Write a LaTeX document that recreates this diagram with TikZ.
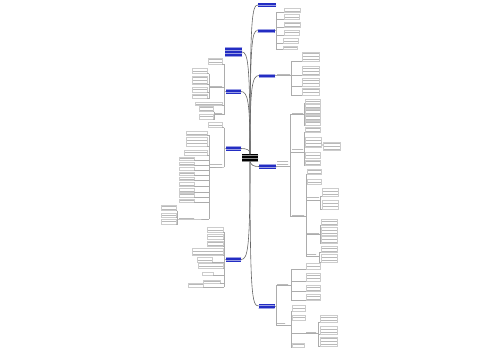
\documentclass[tikz,border=0pt]{standalone}
\usetikzlibrary{patterns}
\definecolor{mblue}{RGB}{35,45,195}
\tikzset{
 conn/.style={draw=gray!65, line width=0.4pt},
 trunk/.style={draw=gray!80!black, line width=0.6pt},
 leaf/.style={draw=gray!40, line width=0.3pt, pattern=horizontal lines, pattern color=gray!55, inner sep=0pt, outer sep=0pt},
 lab/.style={pattern=horizontal lines, pattern color=gray!55, inner sep=0pt, outer sep=0pt},
 topic/.style={preaction={fill=mblue}, pattern=horizontal lines, pattern color=white!55!mblue, inner sep=0pt, outer sep=0pt},
 root/.style={preaction={fill=black}, pattern=horizontal lines, pattern color=white!55!black, inner sep=0pt, outer sep=0pt, minimum width=16pt, minimum height=7pt}
}
\newcommand\myrleaf[6]{\node[leaf,anchor=west,minimum width=#4pt,minimum height=#5pt] (#1) at (#2,#3) {};\draw[conn] (#6 |- #1.south west) -- (#1.south west);}
\newcommand\mylleaf[6]{\node[leaf,anchor=east,minimum width=#4pt,minimum height=#5pt] (#1) at (#2,#3) {};\draw[conn] (#6 |- #1.south east) -- (#1.south east);}
\newcommand\myrlab[7]{\node[lab,anchor=west,minimum width=#4pt,minimum height=#5pt] (#1) at (#2,#3) {};\draw[conn] (#6 |- #1.south west) -- (#1.south west) -- (#1.south east) -- (#7 |- #1.south east);}
\newcommand\myllab[7]{\node[lab,anchor=east,minimum width=#4pt,minimum height=#5pt] (#1) at (#2,#3) {};\draw[conn] (#6 |- #1.south east) -- (#1.south east) -- (#1.south west) -- (#7 |- #1.south west);}
\begin{document}
\begin{tikzpicture}[x=1pt,y=-1pt]
\useasboundingbox (0,0) rectangle (500,360);
% root and main topics
\node[root] (C) at (250,157.5) {};
\node[topic, minimum width=18pt, minimum height=4pt] (R1) at (267,5) {};
\node[topic, minimum width=17pt, minimum height=4pt] (R2) at (266,30.5) {};
\node[topic, minimum width=16pt, minimum height=4pt] (R3) at (267,75.5) {};
\node[topic, minimum width=17pt, minimum height=4pt] (R4) at (267.5,166.5) {};
\node[topic, minimum width=16pt, minimum height=4pt] (R5) at (266.5,306) {};
\node[topic, minimum width=17pt, minimum height=10pt] (L1) at (233.5,52) {};
\node[topic, minimum width=15pt, minimum height=4pt] (L2) at (233.5,91.5) {};
\node[topic, minimum width=15pt, minimum height=4pt] (L3) at (233.5,148.5) {};
\node[topic, minimum width=15pt, minimum height=4pt] (L4) at (233.5,259.5) {};
% trunk
\draw[trunk] (C.north) .. controls (250,17) and (252,5) .. (R1.west);
\draw[trunk] (C.north) .. controls (250,42) and (252,30.5) .. (R2.west);
\draw[trunk] (C.north) .. controls (250,87) and (252,75.5) .. (R3.west);
\draw[trunk] (C.south) .. controls (251,165) and (253,166.5) .. (R4.west);
\draw[trunk] (C.south) .. controls (250,294) and (252,306) .. (R5.west);
\draw[trunk] (C.north) .. controls (250,64) and (248,52) .. (L1.east);
\draw[trunk] (C.north) .. controls (250,103) and (248,91.5) .. (L2.east);
\draw[trunk] (C.north) .. controls (250,150) and (247,148.5) .. (L3.east);
\draw[trunk] (C.south) .. controls (250,248) and (248,259.5) .. (L4.east);
% ---- R2
\coordinate (b2) at (276,0);
\draw[conn] (R2.east) -- (R2.east -| b2);
\myrleaf{r2a}{284}{10}{16}{4}{b2}
\myrleaf{r2b}{284}{16.5}{15}{5}{b2}
\myrleaf{r2c}{284}{25}{16}{5}{b2}
\myrleaf{r2d}{284}{32.5}{15}{5}{b2}
\myrleaf{r2e}{283}{40.5}{15}{5}{b2}
\myrleaf{r2f}{283}{48}{14}{3}{b2}
\draw[conn] (b2 |- r2a.south) -- (b2 |- r2f.south);
% ---- R3
\coordinate (R3e) at (R3.east);
\coordinate (b3) at (291,0);
\myrlab{c3}{277}{74}{13}{3}{R3e}{b3}
\myrleaf{r3a}{302}{57}{17}{9}{b3}
\myrleaf{r3b}{302}{71}{17}{9}{b3}
\myrleaf{r3c}{302}{82}{17}{8}{b3}
\myrleaf{r3d}{302}{92}{17}{7}{b3}
\draw[conn] (b3 |- r3a.south) -- (b3 |- r3d.south);
% ---- R4
\coordinate (R4e) at (R4.east);
\coordinate (b4) at (290,0);
\coordinate (b4a) at (304,0);
\coordinate (b4b) at (304,0);
\coordinate (b4c) at (306,0);
\coordinate (bd) at (320,0);
\coordinate (be) at (320,0);
\coordinate (bf) at (319,0);
\myrlab{c4}{277}{163.5}{11}{6}{R4e}{b4}
\myrlab{a4}{292}{113}{11}{3}{b4}{b4a}
\myrlab{b4s}{292}{151}{11}{3}{b4}{b4b}
\myrlab{c4s}{292}{215}{12}{3}{b4}{b4c}
\draw[conn] (b4 |- a4.south) -- (b4 |- c4s.south);
\myrleaf{r4a1}{305}{101}{15}{4}{b4a}
\myrleaf{r4a2}{305}{106.5}{15}{4}{b4a}
\myrleaf{r4a3}{305}{112}{15}{5}{b4a}
\myrleaf{r4a4}{305}{118}{15}{5}{b4a}
\myrleaf{r4a5}{305}{123.5}{15}{4}{b4a}
\draw[conn] (b4a |- r4a1.south) -- (b4a |- r4a5.south);
\myrleaf{r4b1}{305}{130}{15}{5}{b4b}
\myrleaf{r4b2}{305}{142}{16}{10}{b4b}
\myrleaf{r4b3}{305}{155}{15}{6}{b4b}
\myrleaf{r4b4}{305}{163}{15}{5}{b4b}
\draw[conn] (b4b |- r4b1.south) -- (b4b |- r4b4.south);
\node[leaf,anchor=west,minimum width=17pt,minimum height=8pt] (r4n) at (323,146) {};
\draw[conn] (r4b2.east) -- (r4n.west);
\myrleaf{r4c1}{307}{172}{14}{5}{b4c}
\myrleaf{r4c2}{307}{182}{14}{5}{b4c}
\myrlab{d4}{307}{199}{12}{3}{b4c}{bd}
\myrlab{e4}{307}{233}{12}{3}{b4c}{be}
\myrlab{f4}{307}{255}{9}{3}{b4c}{bf}
\draw[conn] (b4c |- r4c1.south) -- (b4c |- f4.south);
\myrleaf{r4d1}{322}{192}{16}{8}{bd}
\myrleaf{r4d2}{322}{205}{16}{9}{bd}
\draw[conn] (bd |- r4d1.south) -- (bd |- r4d2.south);
\myrleaf{r4e1}{321}{222}{16}{6}{be}
\myrleaf{r4e2}{321}{231}{16}{8}{be}
\myrleaf{r4e3}{321}{240}{16}{7}{be}
\draw[conn] (be |- r4e1.south) -- (be |- r4e3.south);
\myrleaf{r4f1}{321}{249}{16}{6}{bf}
\myrleaf{r4f2}{321}{258}{16}{8}{bf}
\draw[conn] (bf |- r4f1.south) -- (bf |- r4f2.south);
% ---- R5
\coordinate (b5) at (276,0);
\coordinate (bg) at (291,0);
\coordinate (bh) at (291,0);
\coordinate (bi) at (318,0);
\draw[conn] (R5.east) -- (R5.east -| b5);
\myrlab{g5}{277}{284}{11}{3}{b5}{bg}
\myrlab{h5}{277}{323.5}{8}{3}{b5}{bh}
\draw[conn] (b5 |- g5.south) -- (b5 |- h5.south);
\myrleaf{r5g1}{306}{266}{14}{6}{bg}
\myrleaf{r5g2}{306}{277}{14}{8}{bg}
\myrleaf{r5g3}{306}{288}{14}{6}{bg}
\myrleaf{r5g4}{306}{297}{14}{6}{bg}
\draw[conn] (bg |- r5g1.south) -- (bg |- r5g4.south);
\myrleaf{r5h1}{292}{308}{13}{6}{bh}
\myrleaf{r5h2}{292}{318}{13}{5}{bh}
\myrlab{i5}{306}{331.5}{10}{3}{bh}{bi}
\myrleaf{r5h3}{292}{345}{12}{4}{bh}
\draw[conn] (bh |- r5h1.south) -- (bh |- r5h3.south);
\myrleaf{r5i1}{320}{319}{17}{7}{bi}
\myrleaf{r5i2}{320}{330}{17}{8}{bi}
\myrleaf{r5i3}{320}{342}{17}{9}{bi}
\draw[conn] (bi |- r5i1.south) -- (bi |- r5i3.south);
% ---- L2
\coordinate (bL2) at (224,0);
\coordinate (bl2b) at (209,0);
\coordinate (bl2d) at (214,0);
\draw[conn] (L2.west) -- (L2.west -| bL2);
\mylleaf{l2a}{222}{61}{14}{6}{bL2}
\myllab{l2b}{222}{86}{12}{3}{bL2}{bl2b}
\mylleaf{l2c}{222}{103.5}{27}{3}{bL2}
\myllab{l2d}{222}{113}{7}{3}{bL2}{bl2d}
\draw[conn] (bL2 |- l2a.south) -- (bL2 |- l2d.south);
\mylleaf{l2b1}{207}{71}{15}{5}{bl2b}
\mylleaf{l2b2}{207}{80.5}{15}{8}{bl2b}
\mylleaf{l2b3}{207}{89.5}{15}{5}{bl2b}
\mylleaf{l2b4}{207}{96.5}{15}{4}{bl2b}
\draw[conn] (bl2b |- l2b1.south) -- (bl2b |- l2b4.south);
\mylleaf{l2d1}{213}{109}{14}{5}{bl2d}
\mylleaf{l2d2}{213}{117}{14}{5}{bl2d}
\draw[conn] (bl2d |- l2d1.south) -- (bl2d |- l2d2.south);
% ---- L3
\coordinate (bL3) at (224,0);
\coordinate (bl3b) at (209,0);
\coordinate (bl3c) at (177,0);
\draw[conn] (L3.west) -- (L3.west -| bL3);
\mylleaf{l3a}{222}{125}{14}{5}{bL3}
\myllab{l3b}{222}{164.5}{13}{5}{bL3}{bl3b}
\draw[conn] (bL3 |- l3a.south) -- (bL3 |- l3b.south);
\mylleaf{l3b1}{207}{133}{21}{4}{bl3b}
\mylleaf{l3b2}{207}{142}{21}{9}{bl3b}
\mylleaf{l3b3}{207}{152.5}{23}{5}{bl3b}
\mylleaf{l3s1}{194}{159}{15}{3}{bl3b}
\mylleaf{l3s2}{194}{164}{15}{3}{bl3b}
\mylleaf{l3s3}{194}{169}{15}{3}{bl3b}
\mylleaf{l3s4}{194}{174}{15}{3}{bl3b}
\mylleaf{l3s5}{194}{179}{15}{3}{bl3b}
\mylleaf{l3s6}{194}{184.5}{15}{4}{bl3b}
\mylleaf{l3s7}{194}{190}{15}{4}{bl3b}
\mylleaf{l3s8}{194}{195.5}{15}{4}{bl3b}
\mylleaf{l3s9}{194}{200.5}{15}{3}{bl3b}
\myllab{l3c}{194}{217.5}{15}{3}{bl3b}{bl3c}
\draw[conn] (bl3b |- l3b1.south) -- (bl3b |- l3c.south);
\mylleaf{l3c1}{176}{208}{15}{5}{bl3c}
\mylleaf{l3c2}{176}{215}{15}{4}{bl3c}
\mylleaf{l3c3}{176}{222}{15}{5}{bl3c}
\draw[conn] (bl3c |- l3c1.south) -- (bl3c |- l3c3.south);
% ---- L4
\coordinate (bL4) at (224,0);
\draw[conn] (L4.west) -- (L4.west -| bL4);
\mylleaf{l4a}{223}{229.5}{16}{5}{bL4}
\mylleaf{l4b}{223}{236.5}{16}{5}{bL4}
\mylleaf{l4c}{223}{244}{16}{5}{bL4}
\mylleaf{l4d}{223}{251.5}{31}{7}{bL4}
\mylleaf{l4e}{212}{259.5}{15}{5}{bL4}
\mylleaf{l4f}{223}{265.5}{25}{5}{bL4}
\mylleaf{l4g}{213}{273.5}{11}{3}{bL4}
\mylleaf{l4h}{220}{281.5}{17}{3}{bL4}
\mylleaf{l4i}{203}{285}{15}{4}{bL4}
\draw[conn] (bL4 |- l4a.south) -- (bL4 |- l4i.south);
\end{tikzpicture}
\end{document}
